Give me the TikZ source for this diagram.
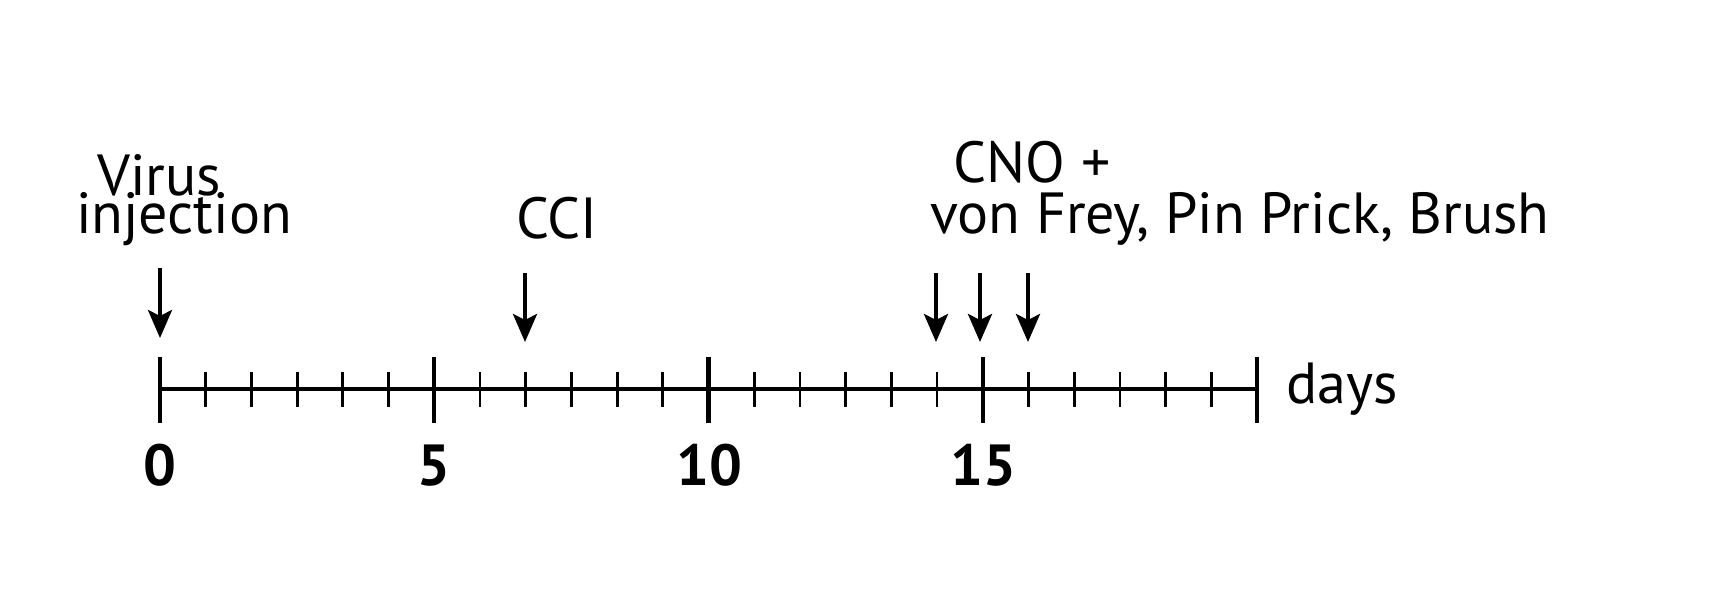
\documentclass[tikz,border=0pt]{standalone}
\usepackage{fontspec}
\setmainfont{PT Sans}
\usetikzlibrary{arrows.meta}

\begin{document}
\begin{tikzpicture}[x=0.5pt, y=-0.5pt,
    label/.style={font=\fontsize{29}{30}\selectfont, inner sep=0pt, anchor=base},
    daynum/.style={font=\fontsize{29}{30}\selectfont\bfseries, inner sep=0pt, anchor=base},
    pointer/.style={-{Stealth[length=14pt, width=12pt, inset=3pt]}, line width=2pt},
    major/.style={line width=2.2pt},
    minor/.style={line width=1.4pt}]
            \useasboundingbox (0,0) rectangle (1714,615);

            % time axis
            \coordinate (start) at (160,389);
            \coordinate (stop) at (1257,389);
            \draw[line width=2pt] (start) -- (stop);
            \foreach \i in {0,...,24}
                \draw[minor] (160+\i*45.71,372) -- ++(0,35);
            \foreach \d in {0,5,10,15,20}
                \draw[major] (160+\d*54.85,357) -- ++(0,66);

            \node[daynum] (d0) at (160,485) {0};
            \node[daynum] (d5) at (434,485) {5};
            \node[daynum] (d10) at (709,485) {10};
            \node[daynum] (d15) at (983,485) {15};
            \node[label, anchor=base west] (days) at (1286,403) {days};

            % events
            \node[label] (virus) at (159,195) {Virus};
            \node[label] (inj) at (184,233) {injection};
            \node[label] (cci) at (557,238) {CCI};
            \node[label] (cno) at (1032,183) {CNO +};
            \node[label] (tests) at (1240,233) {von Frey, Pin Prick, Brush};

            \coordinate (a0) at (160,268);  \coordinate (b0) at (160,338);
            \coordinate (a1) at (525,273);  \coordinate (b1) at (525,342);
            \coordinate (a2) at (936,273);  \coordinate (b2) at (936,342);
            \coordinate (a3) at (980,273);  \coordinate (b3) at (980,342);
            \coordinate (a4) at (1028,273); \coordinate (b4) at (1028,342);

            \draw[pointer] (a0) -- (b0);
            \draw[pointer] (a1) -- (b1);
            \draw[pointer] (a2) -- (b2);
            \draw[pointer] (a3) -- (b3);
            \draw[pointer] (a4) -- (b4);
        \end{tikzpicture}
\end{document}
